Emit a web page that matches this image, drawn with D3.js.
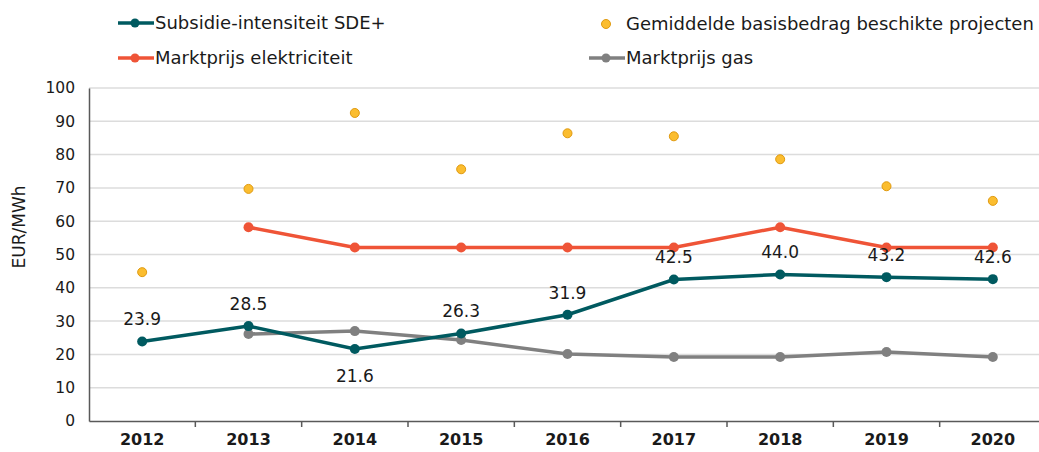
<!DOCTYPE html>
<html>
<head>
<meta charset="utf-8">
<script src="https://cdn.jsdelivr.net/npm/d3@7"></script>
<style>
  body { margin: 0; background: #fff; }
  text { font-family: "DejaVu Sans", sans-serif; fill: #1a1a1a; }
</style>
</head>
<body>
<svg width="1039" height="452"></svg>
<script>
// data
var years = ['2012','2013','2014','2015','2016','2017','2018','2019','2020'];
var sde = [23.9, 28.5, 21.6, 26.3, 31.9, 42.5, 44.0, 43.2, 42.6];
var elektriciteit = [null, 58.2, 52.1, 52.1, 52.1, 52.1, 58.2, 52.1, 52.1];
var gas = [null, 26.1, 27.0, 24.3, 20.1, 19.2, 19.2, 20.7, 19.2];
var basisbedrag = [44.7, 69.7, 92.5, 75.6, 86.4, 85.5, 78.6, 70.5, 66.1];
var yTicks = [0, 10, 20, 30, 40, 50, 60, 70, 80, 90, 100];

var svg = d3.select('svg');
var x = d3.scaleBand().domain(years).range([89, 1046]);
var y = d3.scaleLinear().domain([0, 100]).range([421, 88]);
var cx = function(i){ return x(years[i]) + x.bandwidth() / 2; };

// grid
svg.append('g').selectAll('line')
  .data(yTicks.slice(1))
  .enter().append('line')
  .attr('x1', 89).attr('x2', 1039)
  .attr('y1', d => y(d)).attr('y2', d => y(d))
  .attr('stroke', '#dcdcdc').attr('stroke-width', 1.5);

// y axis
var yAxis = svg.append('g').attr('transform', 'translate(89,0)')
  .call(d3.axisLeft(y).tickValues(yTicks).tickSize(0).tickPadding(14));
yAxis.select('.domain').attr('stroke', '#595959').attr('stroke-width', 1.5);
yAxis.selectAll('text').style('font-size', '15.5px').attr('fill', '#1a1a1a');

// x axis
var xAxis = svg.append('g').attr('transform', 'translate(0,421)')
  .call(d3.axisBottom(x).tickSize(0).tickPadding(13));
xAxis.select('.domain').attr('stroke', '#595959').attr('stroke-width', 1.5);
xAxis.selectAll('text').style('font-size', '16px').style('font-weight', 'bold').attr('fill', '#1a1a1a');
svg.append('g').selectAll('line')
  .data(years.slice(1))
  .enter().append('line')
  .attr('x1', d => x(d)).attr('x2', d => x(d))
  .attr('y1', 421).attr('y2', 427)
  .attr('stroke', '#595959').attr('stroke-width', 1.5);

svg.append('text')
  .attr('transform', 'translate(25,227) rotate(-90)')
  .attr('text-anchor', 'middle')
  .style('font-size', '17px')
  .text('EUR/MWh');

function drawSeries(vals, color){
  var line = d3.line()
    .defined(d => d != null)
    .x((d, i) => cx(i))
    .y(d => y(d));
  svg.append('path')
    .datum(vals)
    .attr('d', line)
    .attr('fill', 'none')
    .attr('stroke', color)
    .attr('stroke-width', 3.5);
  svg.append('g').selectAll('circle')
    .data(vals.map((v, i) => [i, v]).filter(d => d[1] != null))
    .enter().append('circle')
    .attr('cx', d => cx(d[0])).attr('cy', d => y(d[1]))
    .attr('r', 5)
    .attr('fill', color);
}

drawSeries(elektriciteit, '#ef5437');
drawSeries(gas, '#808080');
drawSeries(sde, '#005a60');

// basisbedrag points
svg.append('g').selectAll('circle')
  .data(basisbedrag)
  .enter().append('circle')
  .attr('cx', (d, i) => cx(i)).attr('cy', d => y(d))
  .attr('r', 4.5)
  .attr('fill', '#fbbd2f').attr('stroke', '#e09a10').attr('stroke-width', 1);

// labels sde
svg.append('g').selectAll('text')
  .data(sde)
  .enter().append('text')
  .attr('x', (d, i) => cx(i))
  .attr('y', (d, i) => i == 2 ? y(d) + 33 : y(d) - 16)
  .attr('text-anchor', 'middle')
  .style('font-size', '17px')
  .text(d => d.toFixed(1));

// legend
var legend = svg.append('g');
function legendLine(x0, yy, color, label){
  legend.append('line').attr('x1', x0).attr('x2', x0 + 36)
    .attr('y1', yy).attr('y2', yy)
    .attr('stroke', color).attr('stroke-width', 3.5);
  legend.append('circle').attr('cx', x0 + 17).attr('cy', yy).attr('r', 4.5).attr('fill', color);
  legend.append('text').attr('x', x0 + 37).attr('y', yy + 6)
    .style('font-size', '18px').text(label);
}
legendLine(118, 23, '#005a60', 'Subsidie-intensiteit SDE+');
legendLine(118, 58, '#ef5437', 'Marktprijs elektriciteit');
legendLine(589, 58, '#808080', 'Marktprijs gas');
legend.append('circle').attr('cx', 606).attr('cy', 24).attr('r', 4.5)
  .attr('fill', '#fbbd2f').attr('stroke', '#e09a10').attr('stroke-width', 1);
legend.append('text').attr('x', 626).attr('y', 30)
  .style('font-size', '18px').text('Gemiddelde basisbedrag beschikte projecten');
</script>
</body>
</html>
